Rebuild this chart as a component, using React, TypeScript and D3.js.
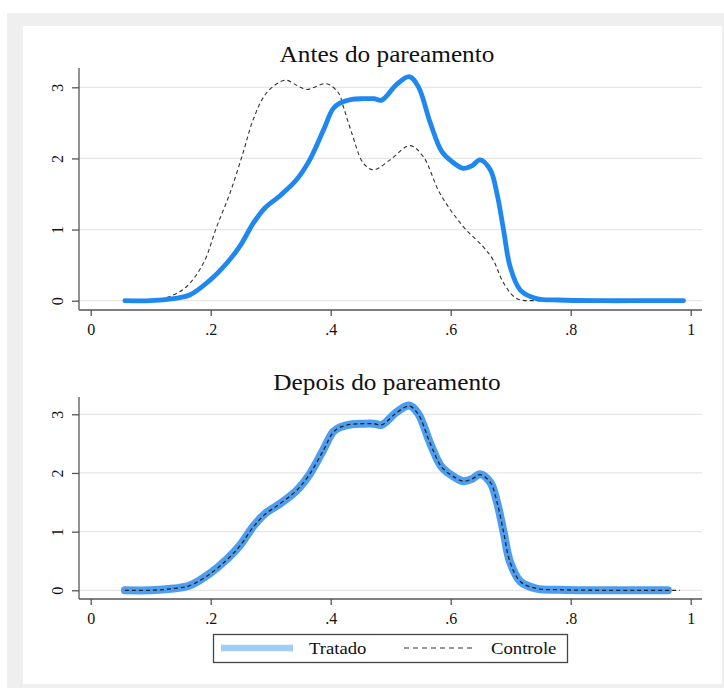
import { useEffect, useRef } from "react";
import * as d3 from "d3";

// densities (x = propensity score, y = density)
const treatedX = [0.057, 0.1, 0.138, 0.165, 0.199, 0.227, 0.249, 0.271, 0.29, 0.316, 0.343, 0.365, 0.388, 0.404, 0.416, 0.435, 0.454, 0.472, 0.485, 0.51, 0.531, 0.546, 0.566, 0.585, 0.603, 0.621, 0.636, 0.649, 0.666, 0.677, 0.688, 0.699, 0.716, 0.743, 0.78, 0.85, 0.92, 0.962, 0.988];
const treatedY = [0, 0.0, 0.03, 0.08, 0.29, 0.53, 0.77, 1.09, 1.3, 1.48, 1.7, 1.98, 2.4, 2.7, 2.78, 2.83, 2.84, 2.84, 2.82, 3.04, 3.15, 3.01, 2.5, 2.1, 1.95, 1.86, 1.9, 1.98, 1.84, 1.51, 1.0, 0.48, 0.15, 0.03, 0.01, 0, 0, 0, 0];

const controlBeforeX = [0.057, 0.1, 0.132, 0.16, 0.188, 0.21, 0.232, 0.254, 0.271, 0.293, 0.324, 0.345, 0.36, 0.393, 0.413, 0.421, 0.435, 0.454, 0.471, 0.499, 0.532, 0.554, 0.582, 0.621, 0.654, 0.671, 0.688, 0.71, 0.743, 0.8, 0.9, 0.988];
const controlBeforeY = [0, 0.01, 0.06, 0.2, 0.53, 1.04, 1.51, 2.08, 2.55, 2.92, 3.1, 3.02, 2.97, 3.05, 2.92, 2.73, 2.36, 1.94, 1.84, 1.98, 2.18, 2.03, 1.51, 1.04, 0.76, 0.57, 0.25, 0.03, 0, 0, 0, 0];

const controlAfterX = [0.057, 0.1, 0.138, 0.165, 0.199, 0.227, 0.249, 0.271, 0.29, 0.316, 0.343, 0.365, 0.388, 0.404, 0.416, 0.435, 0.454, 0.472, 0.485, 0.51, 0.531, 0.546, 0.566, 0.585, 0.603, 0.621, 0.636, 0.649, 0.666, 0.677, 0.688, 0.699, 0.716, 0.743, 0.78, 0.85, 0.92, 0.982];
const controlAfterY = [0, 0.0, 0.03, 0.08, 0.28, 0.52, 0.76, 1.08, 1.29, 1.48, 1.7, 1.98, 2.39, 2.69, 2.78, 2.83, 2.84, 2.84, 2.82, 3.03, 3.14, 3.0, 2.5, 2.1, 1.95, 1.86, 1.9, 1.97, 1.84, 1.51, 1.0, 0.48, 0.15, 0.03, 0.01, 0, 0, 0];

const xTicks = [0, 0.2, 0.4, 0.6, 0.8, 1];
const yTicks = [0, 1, 2, 3];
const titles = ["Antes do pareamento", "Depois do pareamento"];
const legendLabels = ["Tratado", "Controle"];

const zip = (xs: number[], ys: number[]) => xs.map((x, i) => [x, ys[i]] as [number, number]);

const W = 724;
const H = 688;
const FONT = "'Liberation Serif', serif";

const App = () => {
  const svgRef = useRef<SVGSVGElement>(null);

  useEffect(() => {
    const svg = d3.select(svgRef.current);
    svg.selectAll("*").remove();

    // background frame
    svg.append("rect").attr("x", 7).attr("y", 13).attr("width", W - 7).attr("height", H - 13).attr("fill", "#efefef");
    svg.append("rect").attr("x", 23).attr("y", 26).attr("width", 699).attr("height", 658).attr("fill", "#fff");

    const xScale = d3.scaleLinear().domain([0, 1]).range([90.7, 690.7]);

    const panels = [
      { title: titles[0], titleY: 62, top: 68, axisY: 310, y0: 300.7, y3: 87.3, treatedEnd: 0.988, control: zip(controlBeforeX, controlBeforeY), after: false },
      { title: titles[1], titleY: 390, top: 397, axisY: 599, y0: 590.3, y3: 414.3, treatedEnd: 0.962, control: zip(controlAfterX, controlAfterY), after: true },
    ];

    panels.forEach((p) => {
      const yScale = d3.scaleLinear().domain([0, 3]).range([p.y0, p.y3]);
      const g = svg.append("g");

      // gridlines
      g.selectAll(".grid")
        .data(yTicks)
        .join("line")
        .attr("x1", 79)
        .attr("x2", 702)
        .attr("y1", (d) => yScale(d))
        .attr("y2", (d) => yScale(d))
        .attr("stroke", "#e6e6e6")
        .attr("stroke-width", 1.2);

      // axes
      const yAxis = d3.axisLeft(yScale).tickValues(yTicks).tickSize(7).tickFormat(d3.format("d"));
      const ya = g.append("g").attr("transform", "translate(79,0)").call(yAxis).attr("font-family", null).attr("font-size", null);
      ya.select(".domain").remove();
      ya.append("line").attr("y1", p.top).attr("y2", p.axisY).attr("stroke", "#555").attr("stroke-width", 1.3);
      ya.selectAll(".tick line").attr("stroke", "#555").attr("stroke-width", 1.3);
      ya.selectAll(".tick text")
        .attr("x", 0)
        .attr("y", 0)
        .attr("transform", "translate(-22,0) rotate(-90)")
        .attr("text-anchor", "middle")
        .attr("dy", "0.35em")
        .style("font-family", FONT)
        .style("font-size", "16px")
        .attr("fill", "#111");

      const xAxis = d3
        .axisBottom(xScale)
        .tickValues(xTicks)
        .tickSize(6)
        .tickFormat((d) => (d === 0 ? "0" : d === 1 ? "1" : d3.format(".1f")(d as number).replace(/^0/, "")));
      const xa = g.append("g").attr("transform", `translate(0,${p.axisY})`).call(xAxis).attr("font-family", null).attr("font-size", null);
      xa.select(".domain").remove();
      xa.append("line").attr("x1", 79).attr("x2", 702).attr("stroke", "#555").attr("stroke-width", 1.3);
      xa.selectAll(".tick line").attr("stroke", "#555").attr("stroke-width", 1.3);
      xa.selectAll(".tick text")
        .attr("y", 14)
        .style("font-family", FONT)
        .style("font-size", "16px")
        .attr("fill", "#111");

      // title
      g.append("text")
        .attr("transform", `translate(387,${p.titleY}) scale(1.1,1)`)
        .attr("text-anchor", "middle")
        .style("font-family", FONT)
        .style("font-size", "23px")
        .attr("fill", "#111")
        .text(p.title);

      const line = d3
        .line<[number, number]>()
        .x((d) => xScale(d[0]))
        .y((d) => yScale(d[1]))
        .curve(d3.curveCatmullRom.alpha(0.5));

      const treated = zip(treatedX, treatedY).filter((d) => d[0] <= p.treatedEnd + 1e-9);

      if (p.after) {
        g.append("path")
          .attr("d", line(treated))
          .attr("fill", "none")
          .attr("stroke", "#3a93f0")
          .attr("stroke-opacity", 0.9)
          .attr("stroke-width", 8)
          .attr("stroke-linecap", "round");
        g.append("path")
          .attr("d", line(p.control))
          .attr("fill", "none")
          .attr("stroke", "#222")
          .attr("stroke-width", 1.3)
          .attr("stroke-dasharray", "4,3");
      } else {
        g.append("path")
          .attr("d", line(p.control))
          .attr("fill", "none")
          .attr("stroke", "#333")
          .attr("stroke-width", 1.1)
          .attr("stroke-dasharray", "4,3");
        g.append("path")
          .attr("d", line(treated))
          .attr("fill", "none")
          .attr("stroke", "#1f88f0")
          .attr("stroke-width", 4.8)
          .attr("stroke-linecap", "round");
      }
    });

    // legend
    const lg = svg.append("g");
    lg.append("rect")
      .attr("x", 213.5)
      .attr("y", 634.5)
      .attr("width", 354)
      .attr("height", 28)
      .attr("fill", "#fff")
      .attr("stroke", "#444")
      .attr("stroke-width", 1.3);
    lg.append("line").attr("x1", 221).attr("x2", 293).attr("y1", 648).attr("y2", 648).attr("stroke", "#9fcdf8").attr("stroke-width", 6.5);
    lg.append("line")
      .attr("x1", 404)
      .attr("x2", 476)
      .attr("y1", 648)
      .attr("y2", 648)
      .attr("stroke", "#333")
      .attr("stroke-width", 1.1)
      .attr("stroke-dasharray", "5,4");
    lg.selectAll(".lt")
      .data(legendLabels)
      .join("text")
      .attr("transform", (_, i) => `translate(${i === 0 ? 309 : 491},654) scale(1.1,1)`)
      .style("font-family", FONT)
      .style("font-size", "17px")
      .attr("fill", "#111")
      .text((d) => d);
  }, []);

  return <svg ref={svgRef} width={W} height={H} style={{ position: "absolute", left: 0, top: 0 }}></svg>;
};

export default App;
